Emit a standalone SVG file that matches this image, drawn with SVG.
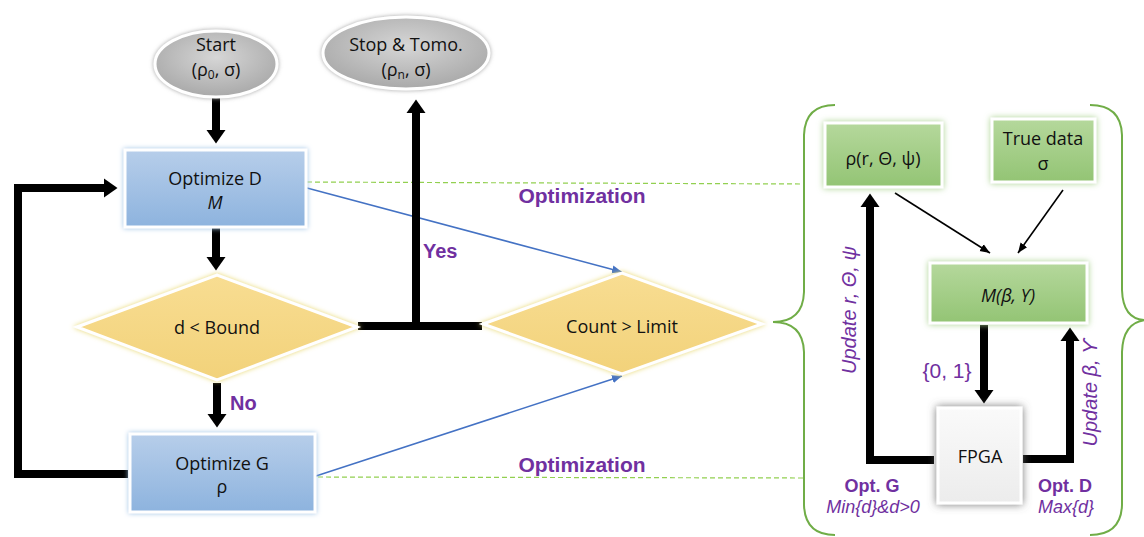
<svg xmlns="http://www.w3.org/2000/svg" width="1144" height="537" viewBox="0 0 1144 537">
<defs>
<linearGradient id="gBlue" x1="0" y1="0" x2="0" y2="1"><stop offset="0" stop-color="#B7CEEA"/><stop offset="1" stop-color="#8DB3DE"/></linearGradient>
<linearGradient id="gGold" x1="0" y1="0" x2="0" y2="1"><stop offset="0" stop-color="#F8DD92"/><stop offset="1" stop-color="#F2D27A"/></linearGradient>
<linearGradient id="gGreen" x1="0" y1="0" x2="0" y2="1"><stop offset="0" stop-color="#B5D89C"/><stop offset="1" stop-color="#93C474"/></linearGradient>
<radialGradient id="gGray" cx="0.5" cy="0.4" r="0.6"><stop offset="0" stop-color="#D6D6D6"/><stop offset="1" stop-color="#A9A9A9"/></radialGradient>
<linearGradient id="gWhite" x1="0" y1="0" x2="0" y2="1"><stop offset="0" stop-color="#FAFAFA"/><stop offset="1" stop-color="#ECECEC"/></linearGradient>
<filter id="glowBlue" x="-20%" y="-20%" width="140%" height="140%"><feDropShadow dx="0" dy="0" stdDeviation="2.5" flood-color="#9DC3E6" flood-opacity="1"/></filter>
<filter id="glowGold" x="-20%" y="-20%" width="140%" height="140%"><feDropShadow dx="0" dy="0" stdDeviation="2.5" flood-color="#E8D86A" flood-opacity="1"/></filter>
<filter id="glowGreen" x="-20%" y="-20%" width="140%" height="140%"><feDropShadow dx="0" dy="0" stdDeviation="3" flood-color="#A9D18E" flood-opacity="1"/></filter>
<filter id="glowGray" x="-20%" y="-20%" width="140%" height="140%"><feDropShadow dx="0" dy="0" stdDeviation="2" flood-color="#999999" flood-opacity="0.9"/></filter>
<filter id="shadowDark" x="-30%" y="-30%" width="160%" height="160%"><feDropShadow dx="0" dy="0" stdDeviation="4" flood-color="#666666" flood-opacity="0.9"/></filter>
<marker id="thick" markerUnits="userSpaceOnUse" viewBox="0 -10 14 20" refX="0" refY="0" markerWidth="14" markerHeight="20" orient="auto"><path d="M0,-9.5 L13.5,0 L0,9.5 Z" fill="#000"/></marker>
<marker id="thin" markerUnits="userSpaceOnUse" viewBox="0 -5 10 10" refX="10" refY="0" markerWidth="10" markerHeight="10" orient="auto"><path d="M0,-4 L10,0 L0,4 Z" fill="#000"/></marker>
<marker id="blue" markerUnits="userSpaceOnUse" viewBox="0 -5 10 10" refX="10" refY="0" markerWidth="10" markerHeight="10" orient="auto"><path d="M0,-4 L10,0 L0,4 Z" fill="#4472C4"/></marker>
</defs>
<style>
.t{font-family:"Open Sans","Liberation Sans",sans-serif;font-size:18px;fill:#111;text-anchor:middle}
.it{font-style:italic}
.lab{font-family:"Liberation Sans",Arial,sans-serif;font-weight:bold;fill:#7030A0}
.pi{font-family:"Liberation Sans",Arial,sans-serif;font-style:italic;fill:#7030A0}
.pn{font-family:"Liberation Sans",Arial,sans-serif;fill:#7030A0}
.tk{fill:none;stroke:#000;stroke-width:8;stroke-linejoin:miter}
.tn{fill:none;stroke:#000;stroke-width:1.6}
.bl{fill:none;stroke:#4472C4;stroke-width:1.5}
.gd{fill:none;stroke:#92D050;stroke-width:1.2;stroke-dasharray:5 3}
.br{fill:none;stroke:#70AD47;stroke-width:2}
.boxB{fill:url(#gBlue);stroke:#fff;stroke-width:3;filter:url(#glowBlue)}
.dia{fill:url(#gGold);stroke:#fff;stroke-width:3;filter:url(#glowGold)}
.boxG{fill:url(#gGreen);stroke:#fff;stroke-width:3;filter:url(#glowGreen)}
.ell{fill:url(#gGray);stroke:#fff;stroke-width:3;filter:url(#glowGray)}
</style>

<g id="connectors">
<line class="gd" x1="307" y1="182" x2="804" y2="184"/>
<line class="gd" x1="318" y1="477" x2="804" y2="478"/>
<line class="bl" x1="307" y1="188" x2="622" y2="272" marker-end="url(#blue)"/>
<line class="bl" x1="316" y1="476" x2="622" y2="376" marker-end="url(#blue)"/>
<line class="tk" x1="216" y1="98" x2="216" y2="130" marker-end="url(#thick)"/>
<line class="tk" x1="216" y1="228" x2="216" y2="257" marker-end="url(#thick)"/>
<line class="tk" x1="217" y1="383" x2="217" y2="414" marker-end="url(#thick)"/>
<polyline class="tk" points="128,474 18,474 18,188 104,188" marker-end="url(#thick)"/>
<line class="tk" x1="358" y1="326" x2="482" y2="326"/>
<line class="tk" x1="416" y1="326" x2="416" y2="113" marker-end="url(#thick)"/>
<polyline class="tk" points="934,460 870,460 870,207" marker-end="url(#thick)"/>
<polyline class="tk" points="1023,459 1070,459 1070,341" marker-end="url(#thick)"/>
<line class="tk" x1="984" y1="325" x2="984" y2="390" marker-end="url(#thick)"/>
<line class="tn" x1="895" y1="193" x2="990" y2="253" marker-end="url(#thin)"/>
<line class="tn" x1="1063" y1="190" x2="1018" y2="253" marker-end="url(#thin)"/>
</g>

<g id="braces">
<path class="br" d="M835,105 Q805,105 804,135 L804,292 Q803,322 773,322 Q803,322 804,352 L804,505 Q805,535 835,535"/>
<path class="br" d="M1090,105 Q1121,105 1122,135 L1122,290 Q1123,320 1146,320 Q1123,322 1122,352 L1122,505 Q1121,535 1090,535"/>
</g>

<g id="start">
<ellipse class="ell" cx="216" cy="64" rx="61" ry="33"/>
<text class="t" x="216" y="51">Start</text>
<text class="t" x="216" y="76">(ρ<tspan font-size="12" dy="3">0</tspan><tspan dy="-3">, σ)</tspan></text>
</g>

<g id="stop">
<ellipse class="ell" cx="406" cy="53" rx="83" ry="36"/>
<text class="t" x="406" y="51">Stop &amp; Tomo.</text>
<text class="t" x="406" y="76">(ρ<tspan font-size="12" dy="3">n</tspan><tspan dy="-3">, σ)</tspan></text>
</g>

<g id="optD">
<rect class="boxB" x="125" y="150" width="181" height="77"/>
<text class="t" x="215" y="185">Optimize D</text>
<text class="t it" x="215" y="209">M</text>
</g>

<g id="bound">
<polygon class="dia" points="77,327 217,275 357,327 217,380"/>
<text class="t" x="217" y="334">d &lt; Bound</text>
</g>

<g id="optG">
<rect class="boxB" x="130" y="434" width="185" height="78"/>
<text class="t" x="222" y="470">Optimize G</text>
<text class="t" x="222" y="493">ρ</text>
</g>

<g id="limit">
<polygon class="dia" points="483,324 622,273 762,324 622,374"/>
<text class="t" x="622" y="333">Count &gt; Limit</text>
</g>

<g id="rho">
<rect class="boxG" x="825" y="123" width="117" height="64"/>
<text class="t" x="883" y="165">ρ(r, Θ, ψ)</text>
</g>

<g id="truedata">
<rect class="boxG" x="992" y="119" width="103" height="63"/>
<text class="t" x="1043" y="145">True data</text>
<text class="t" x="1043" y="170">σ</text>
</g>

<g id="model">
<rect class="boxG" x="930" y="263" width="157" height="60"/>
<text class="t it" x="1008" y="302">M(β, ϒ)</text>
</g>

<g id="fpga">
<rect x="938" y="408" width="83" height="95" fill="url(#gWhite)" stroke="#fff" stroke-width="3" filter="url(#shadowDark)"/>
<text class="t" x="980" y="463">FPGA</text>
</g>

<g id="labels">
<text class="lab" x="582" y="203" font-size="21" text-anchor="middle">Optimization</text>
<text class="lab" x="582" y="472" font-size="21" text-anchor="middle">Optimization</text>
<text class="lab" x="423" y="258" font-size="20">Yes</text>
<text class="lab" x="230" y="410" font-size="20">No</text>
<text class="pn" x="947" y="378" font-size="21" text-anchor="middle">{0, 1}</text>
<text class="lab" x="872" y="492" font-size="18" text-anchor="middle">Opt. G</text>
<text class="pi" x="873" y="513" font-size="18" text-anchor="middle">Min{d}&amp;d&gt;0</text>
<text class="lab" x="1065" y="492" font-size="18" text-anchor="middle">Opt. D</text>
<text class="pi" x="1066" y="513" font-size="18" text-anchor="middle">Max{d}</text>
<text class="pi" font-size="20" text-anchor="middle" transform="translate(856,310) rotate(-90)">Update r, Θ, ψ</text>
<text class="pi" font-size="20" text-anchor="middle" transform="translate(1097,393) rotate(-90)">Update β, ϒ</text>
</g>
</svg>
